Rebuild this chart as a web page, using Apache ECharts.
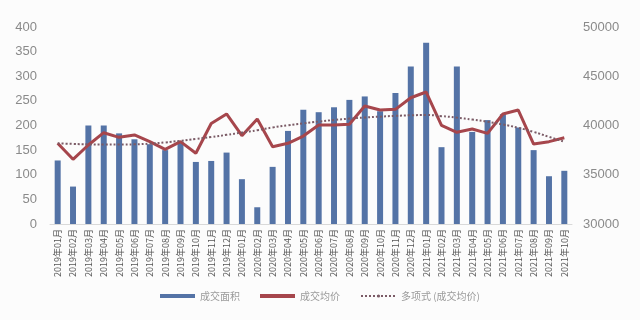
<!DOCTYPE html>
<html>
<head>
<meta charset="utf-8">
<script src="https://cdn.jsdelivr.net/npm/echarts@6/dist/echarts.min.js"></script>
<style>
html,body{margin:0;padding:0;background:#fcfcfc;}
#chart{width:640px;height:320px;}
</style>
</head>
<body>
<div id="chart"></div>
<script>
const categories = [
  '2019年01月','2019年02月','2019年03月','2019年04月','2019年05月','2019年06月','2019年07月','2019年08月','2019年09月','2019年10月','2019年11月','2019年12月',
  '2020年01月','2020年02月','2020年03月','2020年04月','2020年05月','2020年06月','2020年07月','2020年08月','2020年09月','2020年10月','2020年11月','2020年12月',
  '2021年01月','2021年02月','2021年03月','2021年04月','2021年05月','2021年06月','2021年07月','2021年08月','2021年09月','2021年10月'
];
const areaValues = [
  129, 76, 200, 200, 184, 172, 162, 150, 167, 126, 128, 145,
  91, 34, 116, 189, 232, 227, 237, 252, 259, 229, 266, 320,
  368, 156, 320, 187, 211, 223, 196, 150, 97, 108
];
const priceValues = [
  38200, 36570, 38020, 39270, 38800, 39040, 38360, 37580, 38360, 37180, 40200, 41170,
  38970, 40660, 37850, 38190, 38930, 40050, 40050, 40120, 41980, 41570, 41640, 42820,
  43400, 40020, 39310, 39640, 39200, 41170, 41570, 38120, 38360, 38760
];
const trendValues = [
  38190, 38130, 38090, 38070, 38070, 38090, 38160, 38280, 38450, 38630, 38830, 39050,
  39280, 39520, 39800, 40020, 40220, 40400, 40560, 40700, 40810, 40900, 40980, 41040,
  41060, 40950, 40800, 40600, 40380, 40100, 39770, 39350, 38850, 38350
];
const leftTicks = {min: 0, max: 400, interval: 50};
const rightTicks = {min: 30000, max: 50000, interval: 5000};
const seriesNames = ['成交面积', '成交均价', '多项式 (成交均价)'];

const chart = echarts.init(document.getElementById('chart'), null, {renderer: 'canvas'});
chart.setOption({
  backgroundColor: '#fcfcfc',
  animation: false,
  textStyle: {fontFamily: '"Noto Sans CJK SC", "Noto Sans", sans-serif'},
  grid: {left: 50, right: 68, top: 27, bottom: 96},
  legend: {
    bottom: 14,
    left: 'center',
    itemWidth: 35,
    itemHeight: 4,
    itemGap: 20,
    textStyle: {color: '#9a9a9a', fontSize: 10},
    data: [
      {name: seriesNames[0], icon: 'rect'},
      {name: seriesNames[1], icon: 'rect', itemStyle: {color: '#a6464c'}},
      {name: seriesNames[2]}
    ]
  },
  xAxis: {
    type: 'category',
    data: categories,
    axisLine: {lineStyle: {color: '#d9d9d9'}},
    axisTick: {show: false},
    axisLabel: {rotate: 90, fontSize: 9, color: '#555', interval: 0, margin: 5}
  },
  yAxis: [
    {
      type: 'value', min: leftTicks.min, max: leftTicks.max, interval: leftTicks.interval,
      splitLine: {show: false}, axisLine: {show: false}, axisTick: {show: false},
      axisLabel: {fontSize: 13, color: '#8a8a8a', margin: 13, fontFamily: '"Liberation Sans", sans-serif'}
    },
    {
      type: 'value', min: rightTicks.min, max: rightTicks.max, interval: rightTicks.interval,
      splitLine: {show: false}, axisLine: {show: false}, axisTick: {show: false},
      axisLabel: {fontSize: 13, color: '#8a8a8a', margin: 11, fontFamily: '"Liberation Sans", sans-serif',
        formatter: function (v) { return String(v); }}
    }
  ],
  series: [
    {
      name: seriesNames[0], type: 'bar', data: areaValues, barWidth: 6,
      itemStyle: {color: '#5473a6'}
    },
    {
      name: seriesNames[1], type: 'line', yAxisIndex: 1, data: priceValues,
      symbol: 'none', lineStyle: {color: '#a6464c', width: 3}, itemStyle: {color: '#a6464c'}
    },
    {
      name: seriesNames[2], type: 'line', yAxisIndex: 1, data: trendValues, smooth: true,
      symbol: 'none', lineStyle: {color: '#7b5b66', width: 2, type: [2, 2]}, itemStyle: {color: '#7b5b66'}
    }
  ]
});
</script>
</body>
</html>
